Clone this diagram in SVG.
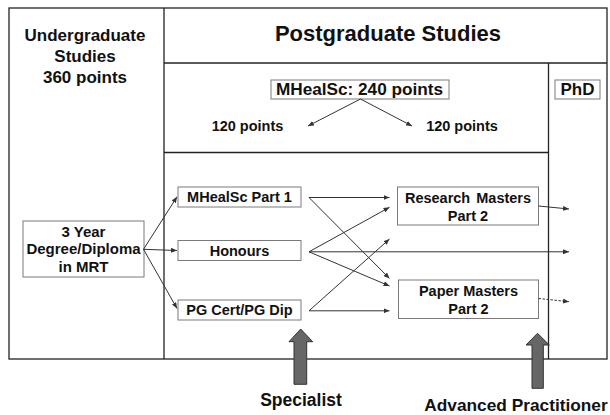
<svg xmlns="http://www.w3.org/2000/svg" width="610" height="415" viewBox="0 0 610 415">
<style>
text{font-family:"Liberation Sans",Arial,sans-serif;font-weight:bold;fill:#111;text-anchor:middle}
.frame{fill:none;stroke:#222;stroke-width:1.3}
.box{fill:#fff;stroke:#7a7a7a;stroke-width:1}
.con{stroke:#333;stroke-width:1;fill:none}
.dash{stroke-dasharray:2.5 1.5}
.block{fill:#666;stroke:#333;stroke-width:1}
.t14{font-size:14.5px}
.t15{font-size:15px}
.t17{font-size:17px}
</style>
<defs>
<marker id="ah" markerUnits="userSpaceOnUse" markerWidth="6" markerHeight="5" refX="6" refY="2.5" orient="auto">
<path d="M0,0 L6,2.5 L0,5 z" fill="#333"/>
</marker>
</defs>
<rect width="610" height="415" fill="#fff"/>
<g id="frame">
<rect class="frame" x="9" y="8" width="598" height="351"/>
<line class="frame" x1="164" y1="8" x2="164" y2="359"/>
<line class="frame" x1="164" y1="63" x2="607" y2="63"/>
<line class="frame" x1="164" y1="152.5" x2="548.5" y2="152.5"/>
<line class="frame" x1="548.5" y1="63" x2="548.5" y2="359"/>
</g>
<g id="undergrad-title">
<text class="t17" x="85" y="41">Undergraduate</text>
<text class="t17" x="85" y="62">Studies</text>
<text class="t17" x="85" y="83">360 points</text>
</g>
<g id="postgrad-title">
<text x="388" y="41" style="font-size:22px">Postgraduate Studies</text>
</g>
<g id="mhealsc">
<rect class="box" x="271" y="80" width="178" height="19"/>
<text x="359.5" y="94.5" style="font-size:17.2px">MHealSc: 240 points</text>
</g>
<g id="phd">
<rect class="box" x="555" y="80" width="45" height="19"/>
<text class="t17" x="577.5" y="94.5">PhD</text>
</g>
<g id="points-left"><text class="t14" x="247.5" y="131">120 points</text></g>
<g id="points-right"><text class="t14" x="462" y="131">120 points</text></g>
<g id="degree">
<rect class="box" x="23" y="221" width="121" height="56"/>
<text class="t15" x="83.5" y="236.5">3 Year</text>
<text class="t15" x="83.5" y="254">Degree/Diploma</text>
<text class="t15" x="83.5" y="271.6">in MRT</text>
</g>
<g id="part1">
<rect class="box" x="178" y="187" width="123" height="20"/>
<text class="t14" x="239.5" y="201.5">MHealSc Part 1</text>
</g>
<g id="honours">
<rect class="box" x="178" y="240.5" width="123" height="20"/>
<text class="t14" x="239.5" y="255.5">Honours</text>
</g>
<g id="pgcert">
<rect class="box" x="178" y="300" width="123" height="20"/>
<text class="t14" x="239.5" y="315">PG Cert/PG Dip</text>
</g>
<g id="research">
<rect class="box" x="397.5" y="187" width="141" height="38"/>
<text class="t14" x="468" y="203" style="word-spacing:2px">Research Masters</text>
<text class="t14" x="468" y="220.5">Part 2</text>
</g>
<g id="paper">
<rect class="box" x="398.5" y="280" width="140" height="38.5"/>
<text class="t14" x="468.5" y="296">Paper Masters</text>
<text class="t14" x="468.5" y="313.5">Part 2</text>
</g>
<g id="connectors">
<line class="con" x1="360.5" y1="99" x2="308" y2="126" marker-end="url(#ah)"/>
<line class="con" x1="360.5" y1="99" x2="412" y2="126" marker-end="url(#ah)"/>
<line class="con" x1="143.5" y1="249.3" x2="177" y2="196.8" marker-end="url(#ah)"/>
<line class="con" x1="143.5" y1="249.3" x2="177" y2="250.5" marker-end="url(#ah)"/>
<line class="con" x1="143.5" y1="249.3" x2="177" y2="308.5" marker-end="url(#ah)"/>
<line class="con" x1="309" y1="197.5" x2="389.5" y2="197.5" marker-end="url(#ah)"/>
<line class="con" x1="309" y1="197.5" x2="389.5" y2="278.5" marker-end="url(#ah)"/>
<line class="con" x1="309" y1="251.8" x2="389.5" y2="207.3" marker-end="url(#ah)"/>
<line class="con" x1="309" y1="251.8" x2="389.5" y2="286" marker-end="url(#ah)"/>
<line class="con" x1="309" y1="251.8" x2="569" y2="251.8" marker-end="url(#ah)"/>
<line class="con" x1="309" y1="310.8" x2="389.5" y2="239" marker-end="url(#ah)"/>
<line class="con" x1="309" y1="310.8" x2="389.5" y2="310.8" marker-end="url(#ah)"/>
<line class="con" x1="538.5" y1="206" x2="569" y2="209" marker-end="url(#ah)"/>
<line class="con dash" x1="538.5" y1="298.5" x2="569" y2="301.7" marker-end="url(#ah)"/>
</g>
<g id="specialist-arrow">
<polygon class="block" points="300.7,329 312.7,341.7 306.7,341.7 306.7,384.3 294,384.3 294,341.7 289,341.7"/>
</g>
<g id="advanced-arrow">
<polygon class="block" points="537.5,333.3 549.3,345 543.3,345 543.3,388.3 532,388.3 532,345 526,345"/>
</g>
<g id="specialist-label"><text x="301" y="406" style="font-size:17.5px">Specialist</text></g>
<g id="advanced-label"><text x="516" y="410.5" style="font-size:17.3px">Advanced Practitioner</text></g>
</svg>
